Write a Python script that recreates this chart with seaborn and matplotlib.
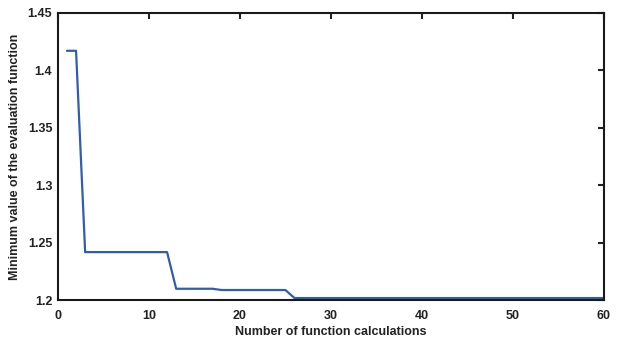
import matplotlib
matplotlib.use("Agg")
import matplotlib.pyplot as plt
import seaborn as sns
import pandas as pd

x_vals = list(range(1, 61))
y_vals = ([1.417, 1.417] + [1.2417] * 10 + [1.2098] * 5 + [1.2087] * 8 + [1.2017] * 35)
x_ticks = [0, 10, 20, 30, 40, 50, 60]
y_ticks = [1.2, 1.25, 1.3, 1.35, 1.4, 1.45]
y_tick_labels = ["1.2", "1.25", "1.3", "1.35", "1.4", "1.45"]

sns.set_style("white")
plt.rcParams['font.family'] = ['Liberation Sans', 'DejaVu Sans']
plt.rcParams['font.weight'] = 'bold'

df = pd.DataFrame({"x": x_vals, "y": y_vals})
fig = plt.figure(figsize=(6.22, 3.39), dpi=100)
ax = fig.add_axes([0.093, 0.115, 0.878, 0.847])
sns.lineplot(data=df, x="x", y="y", ax=ax, color="#2F5DAF", linewidth=1.6)
ax.set_xlim(0, 60)
ax.set_ylim(1.2, 1.45)
ax.set_xticks(x_ticks)
ax.set_xticklabels([str(t) for t in x_ticks])
ax.set_yticks(y_ticks)
ax.set_yticklabels(y_tick_labels)
ax.tick_params(direction="in", length=4, width=1.5, top=True, right=True,
               labelsize=9, colors="#222222", pad=4)
ax.tick_params(axis="x", pad=7)
for lab in ax.get_xticklabels() + ax.get_yticklabels():
    lab.set_fontweight("bold")
for s in ax.spines.values():
    s.set_linewidth(1.5)
    s.set_color("#1a1a1a")
ax.set_xlabel("Number of function calculations", fontsize=9, fontweight="bold", color="#222222", labelpad=3)
ax.set_ylabel("Minimum value of the evaluation function", fontsize=9, fontweight="bold", color="#222222", labelpad=5)
fig.savefig("out.png", dpi=100)
